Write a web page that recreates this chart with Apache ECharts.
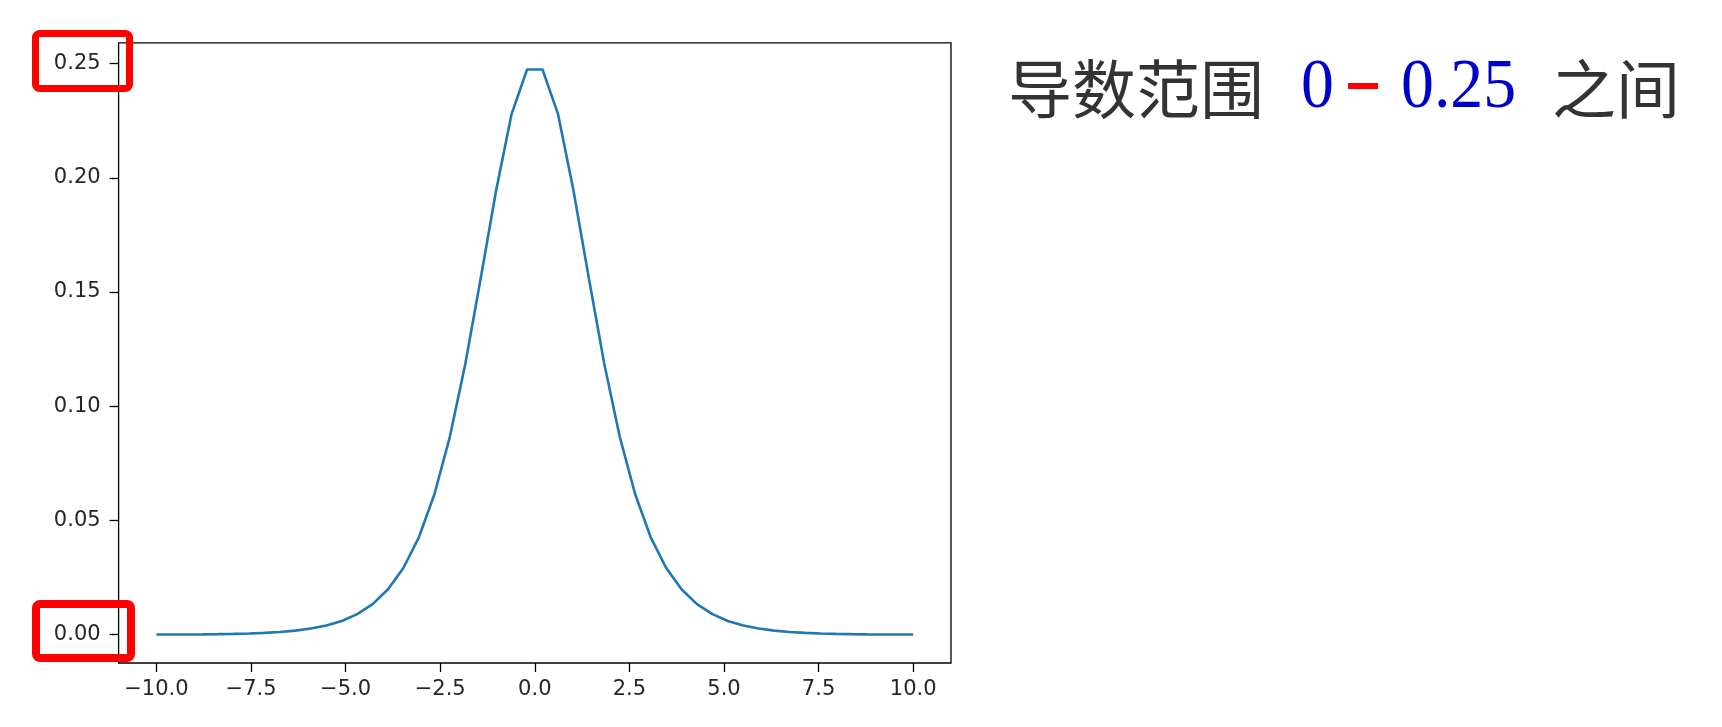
<!DOCTYPE html>
<html>
<head>
<meta charset="utf-8">
<style>
  html, body { margin: 0; padding: 0; background: #fff; }
  #chart { width: 1722px; height: 727px; }
</style>
<script src="https://cdn.jsdelivr.net/npm/echarts@6/dist/echarts.min.js"></script>
</head>
<body>
<div id="chart"></div>
<script>
// ---- data ----
const xValues = [
  -10.0, -9.592, -9.184, -8.776, -8.367, -7.959, -7.551, -7.143, -6.735, -6.327,
  -5.918, -5.510, -5.102, -4.694, -4.286, -3.878, -3.469, -3.061, -2.653, -2.245,
  -1.837, -1.429, -1.020, -0.612, -0.204, 0.204, 0.612, 1.020, 1.429, 1.837,
  2.245, 2.653, 3.061, 3.469, 3.878, 4.286, 4.694, 5.102, 5.510, 5.918,
  6.327, 6.735, 7.143, 7.551, 7.959, 8.367, 8.776, 9.184, 9.592, 10.0
];
const yValues = [
  0.00005, 0.00007, 0.00010, 0.00015, 0.00023, 0.00035, 0.00053, 0.00079, 0.00119, 0.00178,
  0.00268, 0.00401, 0.00601, 0.00898, 0.01339, 0.01987, 0.02928, 0.04273, 0.06147, 0.0866,
  0.1185, 0.1560, 0.1947, 0.2280, 0.2474, 0.2474, 0.2280, 0.1947, 0.1560, 0.1185,
  0.0866, 0.06147, 0.04273, 0.02928, 0.01987, 0.01339, 0.00898, 0.00601, 0.00401, 0.00268,
  0.00178, 0.00119, 0.00079, 0.00053, 0.00035, 0.00023, 0.00015, 0.00010, 0.00007, 0.00005
];
const xTicks = [-10, -7.5, -5, -2.5, 0, 2.5, 5, 7.5, 10];
const yTicks = [0, 0.05, 0.10, 0.15, 0.20, 0.25];
const titleParts = ['导数范围', '0', '0.25', '之间'];

const seriesData = xValues.map((x, i) => [x, yValues[i]]);

const chart = echarts.init(document.getElementById('chart'), null, { renderer: 'canvas' });
const labelColor = '#262626';
const labelFont = 'DejaVu Sans';

chart.setOption({
  animation: false,
  backgroundColor: '#ffffff',
  grid: {
    left: 118.6, right: 771, top: 42.8, bottom: 64,
    show: true, borderColor: '#000', borderWidth: 1.3, backgroundColor: 'transparent'
  },
  xAxis: {
    type: 'value', min: -11, max: 11,
    splitLine: { show: false },
    axisLine: { show: false, onZero: false },
    axisTick: { show: true, inside: false, length: 9, customValues: xTicks,
                lineStyle: { color: '#000', width: 1.3 } },
    axisLabel: { customValues: xTicks, margin: 16, color: labelColor,
                 fontFamily: labelFont, fontSize: 21,
                 formatter: v => v.toFixed(1).replace('-', '\u2212') }
  },
  yAxis: {
    type: 'value', min: -0.0124, max: 0.2591,
    splitLine: { show: false },
    axisLine: { show: false, onZero: false },
    axisTick: { show: true, inside: false, length: 9, customValues: yTicks,
                lineStyle: { color: '#000', width: 1.3 } },
    axisLabel: { customValues: yTicks, margin: 18, color: labelColor,
                 fontFamily: labelFont, fontSize: 21,
                 formatter: v => v.toFixed(2) }
  },
  series: [{
    type: 'line',
    data: seriesData,
    showSymbol: false,
    symbol: 'none',
    lineStyle: { color: '#1f77b4', width: 2.6 },
    itemStyle: { color: '#1f77b4' }
  }],
  graphic: [
    { type: 'text', left: 1008, top: 57, style: { text: titleParts[0], fill: '#333333',
      font: '64px "Noto Sans CJK SC"' } },
    { type: 'text', x: 1301, y: 54, scaleX: 0.94, style: { text: titleParts[1], fill: '#0000cc',
      font: '70px "Liberation Serif"', verticalAlign: 'top' } },
    { type: 'rect', shape: { x: 1348, y: 83, width: 30, height: 6 }, style: { fill: '#ff0000' } },
    { type: 'text', x: 1401, y: 54, scaleX: 0.94, style: { text: titleParts[2], fill: '#0000cc',
      font: '70px "Liberation Serif"', verticalAlign: 'top' } },
    { type: 'text', left: 1552, top: 57, style: { text: titleParts[3], fill: '#333333',
      font: '64px "Noto Sans CJK SC"' } },
    { type: 'rect', z: 100, shape: { x: 35.5, y: 33.5, width: 94, height: 55, r: 4 },
      style: { fill: 'none', stroke: '#ff0000', lineWidth: 7 } },
    { type: 'rect', z: 100, shape: { x: 36, y: 604, width: 95, height: 54, r: 4 },
      style: { fill: 'none', stroke: '#ff0000', lineWidth: 8 } }
  ]
});
</script>
</body>
</html>
